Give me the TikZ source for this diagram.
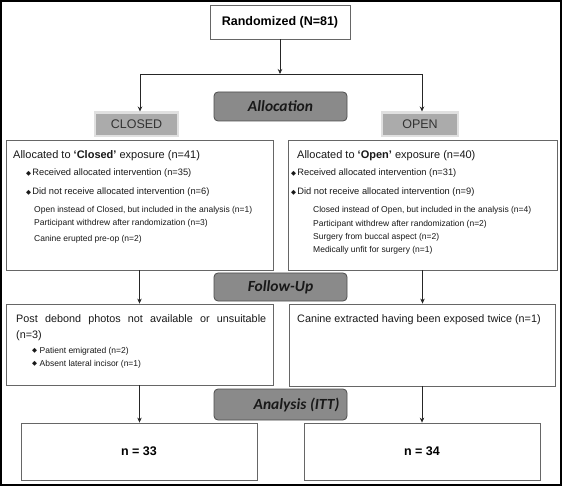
\documentclass[tikz,border=0pt]{standalone}
\usepackage{fontspec}
\setmainfont{Liberation Sans}
\newfontfamily\carlito{Carlito}
\newfontfamily\dejavu{DejaVu Sans}
\usetikzlibrary{arrows.meta}
\newcommand{\fs}[1]{\fontsize{#1}{#1}\selectfont}
\newcommand{\dmd}{\raisebox{0.7pt}{\dejavu\fontsize{6.5}{6.5}\selectfont ◆}}
\begin{document}
\begin{tikzpicture}[x=1pt,y=-1pt,
  box/.style={draw=black!60, line width=0.8pt, fill=white, inner sep=0pt},
  stage/.style={draw=black!70, line width=0.8pt, fill=black!46, rounded corners=4pt, inner sep=0pt, minimum width=133pt, font=\carlito\bfseries\itshape\fs{15.5}, text=black!90},
  stagetxt/.style={inner sep=0pt, font=\carlito\bfseries\itshape\fs{15.5}, text=black!90},
  tab/.style={draw=black!12, line width=2.5pt, fill=black!33, inner sep=0pt, minimum height=23.5pt, font=\fs{12.5}, text=black!80},
  txt/.style={anchor=base west, inner sep=0pt, text=black!90},
  head/.style={txt, font=\fs{11}},
  item/.style={txt, font=\fs{9.3}},
  sub/.style={txt, font=\fs{8.5}},
  arr/.style={draw=black!85, line width=0.7pt, -{Stealth[length=5pt,width=4.5pt]}},
  ln/.style={draw=black!85, line width=0.7pt}
]
\useasboundingbox (0,0) rectangle (562,486);
\draw[line width=2.2pt] (1.1,1.1) rectangle (560.9,484.9);

% top
\node[box, minimum width=140pt, minimum height=34pt, font=\bfseries\fs{12.5}] (rand) at (280,22) {Randomized (N=81)};
\coordinate (split) at (280,74);
\coordinate (jl) at (140,74);
\coordinate (jr) at (422,74);
\draw[arr] (rand) -- (split);
\draw[ln] (jl) -- (jr);

% tabs and stage
\node[tab, minimum width=83pt] (closed) at (136.5,124.5) {CLOSED};
\node[tab, minimum width=76pt] (open) at (420,124.5) {OPEN};
\draw[arr] (jl) -- (jl |- closed.north);
\draw[arr] (jr) -- (jr |- open.north);
\node[stage, minimum height=29pt] (alloc) at (280.5,106.5) {Allocation};

% allocation boxes
\node[box, minimum width=267pt, minimum height=130pt] (allocL) at (139.5,205) {};
\node[box, minimum width=269pt, minimum height=130pt] (allocR) at (422.5,205) {};

\node[head] (l1) at (13,159) {Allocated to \textbf{‘Closed’} exposure (n=41)};
\node[item] (l2) at (26,176) {\dmd\hspace{1.2pt}Received allocated intervention (n=35)};
\node[item] (l3) at (26,195) {\dmd\hspace{1.2pt}Did not receive allocated intervention (n=6)};
\node[sub] (l4) at (34,213) {Open instead of Closed, but included in the analysis (n=1)};
\node[sub] (l5) at (34,226) {Participant withdrew after randomization (n=3)};
\node[sub] (l6) at (34,242) {Canine erupted pre-op (n=2)};

\node[head] (r1) at (297,158.5) {Allocated to \textbf{‘Open’} exposure (n=40)};
\node[item] (r2) at (291,176) {\dmd\hspace{1.2pt}Received allocated intervention (n=31)};
\node[item] (r3) at (291,195) {\dmd\hspace{1.2pt}Did not receive allocated intervention (n=9)};
\node[sub] (r4) at (313,213) {Closed instead of Open, but included in the analysis (n=4)};
\node[sub] (r5) at (313,226.5) {Participant withdrew after randomization (n=2)};
\node[sub] (r6) at (313,240) {Surgery from buccal aspect (n=2)};
\node[sub] (r7) at (313,253) {Medically unfit for surgery (n=1)};

% follow-up
\node[stage, minimum height=28pt] (follow) at (280.5,287) {Follow-Up};
\node[box, minimum width=267pt, minimum height=81pt] (fuL) at (139.5,344.5) {};
\node[box, minimum width=266pt, minimum height=82pt] (fuR) at (422,345) {};
\draw[arr] (allocL.south) -- (allocL.south |- fuL.north);
\draw[arr] (allocR.south) -- (allocR.south |- fuR.north);

\node[head, font=\fs{10.8}] (f1) at (16,322.5) {\makebox[250pt][s]{Post debond photos not available or unsuitable}};
\node[head, font=\fs{10.8}] (f2) at (16,338.5) {(n=3)};
\node[sub] (f3) at (32,353.5) {\dmd\hspace{2.5pt}Patient emigrated (n=2)};
\node[sub] (f4) at (32,366.5) {\dmd\hspace{2.5pt}Absent lateral incisor (n=1)};
\node[head, font=\fs{10.8}] (f5) at (297,322.5) {Canine extracted having been exposed twice (n=1)};

% analysis
\node[stage, minimum height=31pt] (analysis) at (280.5,404.5) {};
\node[stagetxt] (analysist) at (296.5,404.5) {Analysis (ITT)};
\node[box, minimum width=236pt, minimum height=57pt, font=\bfseries\fs{12.5}] (resL) at (139,451.5) {n = 33};
\node[box, minimum width=236pt, minimum height=57pt, font=\bfseries\fs{12.5}] (resR) at (422,451.5) {n = 34};
\draw[arr] (fuL.south) -- (fuL.south |- resL.north);
\draw[arr] (fuR.south) -- (fuR.south |- resR.north);
\end{tikzpicture}
\end{document}
